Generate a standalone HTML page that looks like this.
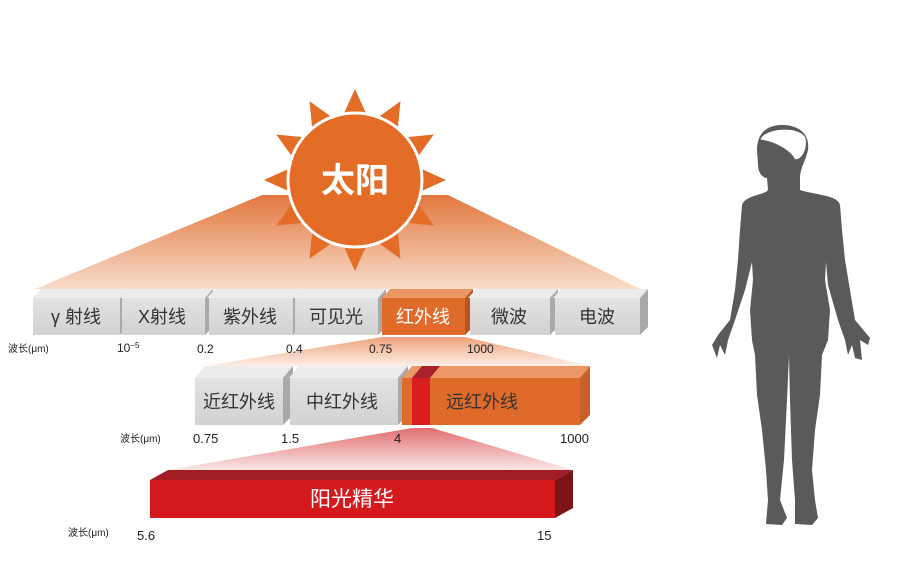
<!DOCTYPE html>
<html><head><meta charset="utf-8"><style>
html,body{margin:0;padding:0;background:#fff;}
svg{display:block;}
text{font-family:"Liberation Sans","Noto Sans CJK SC",sans-serif;}
</style></head><body>
<svg width="901" height="580" viewBox="0 0 901 580" xmlns="http://www.w3.org/2000/svg">
<defs>
<linearGradient id="f1" x1="0" y1="0" x2="0" y2="1">
<stop offset="0" stop-color="#e2783e"/><stop offset="1" stop-color="#f8dccb"/></linearGradient>
<linearGradient id="f2" x1="0" y1="0" x2="0" y2="1">
<stop offset="0" stop-color="#eea27a"/><stop offset="1" stop-color="#fcefe7"/></linearGradient>
<linearGradient id="f3" x1="0" y1="0" x2="0" y2="1">
<stop offset="0" stop-color="#e07070"/><stop offset="1" stop-color="#fbe6e6"/></linearGradient>
<linearGradient id="gf" x1="0" y1="0" x2="0" y2="1">
<stop offset="0" stop-color="#e2e2e2"/><stop offset="1" stop-color="#d2d2d2"/></linearGradient>
</defs>

<polygon points="262,195 448,195 640,289 35,289" fill="url(#f1)"/>
<polygon points="382,337 465,337 590,366 205,366" fill="url(#f2)"/>
<polygon points="412,428 432,428 573,470 168,470" fill="url(#f3)"/>

<g transform="translate(355,180)" fill="#e36c27">
<g id="ray"><polygon points="-14,-60 14,-60 0,-91"/></g>
<use href="#ray" transform="rotate(30)"/><use href="#ray" transform="rotate(60)"/>
<use href="#ray" transform="rotate(90)"/><use href="#ray" transform="rotate(120)"/>
<use href="#ray" transform="rotate(150)"/><use href="#ray" transform="rotate(180)"/>
<use href="#ray" transform="rotate(210)"/><use href="#ray" transform="rotate(240)"/>
<use href="#ray" transform="rotate(270)"/><use href="#ray" transform="rotate(300)"/>
<use href="#ray" transform="rotate(330)"/>
<circle r="67" fill="#e36c27" stroke="#fff" stroke-width="3"/>
<text x="0" y="12" font-size="34" font-weight="bold" fill="#fff" text-anchor="middle">太阳</text>
</g>

<g font-size="18" fill="#333" text-anchor="middle">
<g>
<polygon points="33,298 41,289 128,289 120,298" fill="#ececec"/>
<polygon points="120,298 128,289 128,327 120,335" fill="#a9a9a9"/>
<rect x="33" y="298" width="87" height="37" fill="url(#gf)"/>
<text x="76" y="323">γ 射线</text>
</g>
<g>
<polygon points="120,298 128,289 213,289 205,298" fill="#ececec"/>
<polygon points="205,298 213,289 213,327 205,335" fill="#a9a9a9"/>
<rect x="122" y="298" width="83" height="37" fill="url(#gf)"/>
<text x="162" y="323">X射线</text>
</g>
<g>
<polygon points="207,298 215,289 301,289 293,298" fill="#ececec"/>
<polygon points="293,298 301,289 301,327 293,335" fill="#a9a9a9"/>
<rect x="209" y="298" width="84" height="37" fill="url(#gf)"/>
<text x="250" y="323">紫外线</text>
</g>
<g>
<polygon points="293,298 301,289 386,289 378,298" fill="#ececec"/>
<polygon points="378,298 386,289 386,327 378,335" fill="#a9a9a9"/>
<rect x="295" y="298" width="83" height="37" fill="url(#gf)"/>
<text x="336" y="323">可见光</text>
</g>
<g>
<polygon points="382,298 390,289 473,289 465,298" fill="#eb9766"/>
<polygon points="465,298 473,289 473,327 465,335" fill="#b9541d"/>
<rect x="382" y="298" width="83" height="37" fill="#e06a2a"/>
<text x="423" y="323" fill="#fff">红外线</text>
</g>
<g>
<polygon points="468,298 476,289 558,289 550,298" fill="#ececec"/>
<polygon points="550,298 558,289 558,327 550,335" fill="#a9a9a9"/>
<rect x="470" y="298" width="80" height="37" fill="url(#gf)"/>
<text x="509" y="323">微波</text>
</g>
<g>
<polygon points="553,298 561,289 648,289 640,298" fill="#ececec"/>
<polygon points="640,298 648,289 648,327 640,335" fill="#a9a9a9"/>
<rect x="555" y="298" width="85" height="37" fill="url(#gf)"/>
<text x="597" y="323">电波</text>
</g>
</g>
<g font-size="12" fill="#222">
<text x="8" y="352" font-size="10">波长(μm)</text>
<text x="117" y="352">10<tspan font-size="8" dy="-4">−5</tspan></text>
<text x="197" y="353">0.2</text>
<text x="286" y="353">0.4</text>
<text x="369" y="353">0.75</text>
<text x="467" y="353">1000</text>
</g>

<g font-size="18" fill="#333" text-anchor="middle">
<polygon points="195,378 205,366 293,366 283,378" fill="#ececec"/>
<polygon points="283,378 293,366 293,415 283,425" fill="#a9a9a9"/>
<rect x="195" y="378" width="88" height="47" fill="url(#gf)"/>
<text x="239" y="408">近红外线</text>
<polygon points="289,378 299,366 408,366 398,378" fill="#ececec"/>
<polygon points="398,378 408,366 408,415 398,425" fill="#a9a9a9"/>
<rect x="290" y="378" width="108" height="47" fill="url(#gf)"/>
<text x="342" y="408">中红外线</text>
<polygon points="402,378 412,366 590,366 580,378" fill="#eb9766"/>
<polygon points="412,378 422,366 440,366 430,378" fill="#a8202a"/>
<polygon points="580,378 590,366 590,415 580,425" fill="#c9602a"/>
<rect x="402" y="378" width="178" height="47" fill="#e06a2a"/>
<rect x="412" y="378" width="18" height="47" fill="#d81e1e"/>
<text x="482" y="408">远红外线</text>
</g>
<g font-size="13" fill="#222">
<text x="120" y="442" font-size="10">波长(μm)</text>
<text x="193" y="443">0.75</text>
<text x="281" y="443">1.5</text>
<text x="394" y="443">4</text>
<text x="560" y="443">1000</text>
</g>

<polygon points="150,480 168,470 573,470 555,480" fill="#a31e24"/>
<polygon points="555,480 573,470 573,508 555,518" fill="#7a1418"/>
<rect x="150" y="480" width="405" height="38" fill="#d4191d"/>
<text x="352" y="506" font-size="21" fill="#fff" text-anchor="middle">阳光精华</text>
<g font-size="13" fill="#222">
<text x="68" y="536" font-size="10">波长(μm)</text>
<text x="137" y="540">5.6</text>
<text x="537" y="540">15</text>
</g>

<path fill="#5a5a5a" d="M782,125 C800,125 810,135 808,150 C806,160 800,168 800,178 L800,190 C815,195 838,195 840,205 L842,230 L845,260 L850,290 L855,320 L870,338 L868,345 L860,340 L862,360 L855,358 L852,345 L848,355 L845,340 L838,320 L828,285 L826,262 L825,280 L830,310 L828,340 L822,355 L820,395 L815,430 L812,470 L815,500 L818,518 L812,525 L795,524 L795,500 L792,460 L790,400 L789,355 L787,400 L784,460 L780,500 L787,518 L782,525 L766,524 L768,500 L766,470 L762,430 L757,395 L755,355 L752,340 L750,310 L753,280 L752,262 L745,290 L735,320 L728,340 L725,355 L720,345 L717,358 L712,345 L718,335 L730,320 L735,290 L738,260 L740,230 L742,205 C745,195 765,195 768,190 L767,178 C762,178 758,172 758,165 L757,150 C757,135 765,125 782,125 Z"/>
<path fill="#fff" stroke="#5a5a5a" stroke-width="1" d="M760,140 C762,128 800,124 806,138 C808,150 802,160 795,160 C790,150 775,142 760,140 Z"/>
</svg>
</body></html>
